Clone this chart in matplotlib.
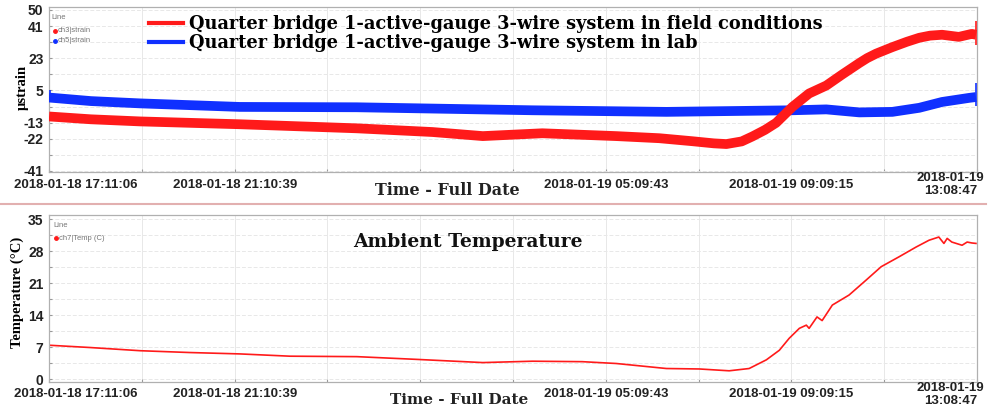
import numpy as np
import matplotlib
matplotlib.use('Agg')
import matplotlib.pyplot as plt
from matplotlib.lines import Line2D

plt.rcParams['font.family'] = ['Liberation Sans', 'DejaVu Sans']

# time axis: hours after 2018-01-18 17:11:06, span up to 2018-01-19 13:08:47
t_span = 19.961
time_tick_labels = ['2018-01-18 17:11:06', '', '2018-01-18 21:10:39', '', '', '',
                    '2018-01-19 05:09:43', '', '2018-01-19 09:09:15', '', '2018-01-19\n13:08:47']

# strain panel
strain_ticks = np.linspace(-41, 50, 11)
strain_tick_labels = ['-41', '', '-22', '-13', '', '5', '', '23', '', '41', '50']

ch3_hours = [0.0, 0.9, 1.96, 4.10, 6.62, 8.25, 9.33, 10.61, 12.20, 13.13, 13.84, 14.3, 14.57,
             14.9, 15.13, 15.4, 15.64, 15.99, 16.35, 16.72, 17.06, 17.43, 17.6, 17.79, 18.14,
             18.45, 18.72, 18.95, 19.21, 19.57, 19.85, 19.94]
ch3_strain = [-10.2, -11.8, -13.0, -14.6, -16.9, -19.0, -21.3, -19.7, -21.3, -22.5, -24.2, -25.4, -25.8,
              -24.3, -21.5, -17.8, -13.8, -4.8, 2.8, 7.3, 13.5, 20.0, 22.8, 25.3, 29.0,
              32.0, 34.3, 35.5, 36.0, 34.8, 36.5, 36.0]

ch5_hours = [0.0, 0.9, 1.96, 4.10, 6.62, 10.40, 13.28, 15.99, 16.72, 17.43, 18.14, 18.72,
             19.21, 19.79, 19.94]
ch5_strain = [0.5, -1.5, -2.8, -4.8, -5.0, -6.7, -7.6, -6.7, -6.2, -7.9, -7.6, -5.3,
              -2.0, 0.3, 0.8]

# short spikes at the ends of the records
spike_hours = [0.02, 19.95, 19.95]
spike_low = [-2.0, 30.0, -4.0]
spike_high = [5.0, 44.0, 9.0]
spike_colors = ['#1030ff', '#ff1a1a', '#1030ff']

# temperature panel
temp_ticks = np.linspace(0, 35, 11)
temp_tick_labels = ['0', '', '7', '', '14', '', '21', '', '28', '', '35']

ch7_hours = [0.0, 0.88, 1.96, 3.03, 4.10, 5.18, 6.62, 7.91, 9.33, 10.40, 11.47, 12.20,
             13.28, 13.99, 14.63, 15.06, 15.43, 15.71, 15.92, 16.14, 16.29, 16.35,
             16.52, 16.63, 16.85, 17.21, 17.58, 17.90, 18.29, 18.65, 18.93, 19.14,
             19.25, 19.32, 19.42, 19.64, 19.75, 19.85, 19.94]
ch7_temp = [7.4, 6.9, 6.2, 5.8, 5.5, 5.0, 4.9, 4.3, 3.6, 3.9, 3.8, 3.4,
            2.3, 2.2, 1.8, 2.3, 4.2, 6.3, 8.9, 11.1, 11.8, 11.1,
            13.6, 12.8, 16.2, 18.4, 21.7, 24.6, 26.8, 28.9, 30.4, 31.1,
            29.7, 30.8, 30.0, 29.3, 30.0, 29.8, 29.7]

RED = '#ff1a1a'
BLUE = '#1030ff'
serif = ['DejaVu Serif']
serif_narrow = ['Liberation Serif']


def style_axes(ax, yticks, ylabels, ylim):
    ax.set_xlim(0, t_span)
    ax.set_ylim(*ylim)
    xt = np.linspace(0, t_span, 11)
    ax.set_xticks(xt)
    ax.set_xticklabels([])
    ax.set_yticks(yticks)
    ax.set_yticklabels(ylabels, fontsize=10, fontweight='bold', color='#222222')
    ax.tick_params(direction='in', length=2.5, color='#999999', pad=4)
    ax.grid(axis='x', color='#e8e8e8', lw=0.7)
    ax.grid(axis='y', color='#e8e8e8', lw=0.7, ls=(0, (4, 2)))
    for s in ax.spines.values():
        s.set_color('#b0b0b0')
        s.set_linewidth(0.9)
    # time labels under the ticks
    for i, lab in enumerate(time_tick_labels):
        if not lab:
            continue
        dx = 0
        if i == 0:
            dx = 19
        if i == len(time_tick_labels) - 1:
            dx = -19
        ax.annotate(lab, xy=(xt[i], 0), xycoords=ax.get_xaxis_transform(),
                    xytext=(dx, -9), textcoords='offset points', ha='center', va='center',
                    fontsize=9.5, fontweight='bold', color='#222222', linespacing=1.05)


fig = plt.figure(figsize=(10.01, 4.11), dpi=100)
ax1 = fig.add_axes([0.049, 0.5815, 0.927, 0.4015])
ax2 = fig.add_axes([0.049, 0.0706, 0.927, 0.406])

# ---- strain ----
style_axes(ax1, strain_ticks, strain_tick_labels, (-41.6, 51.7))
ax1.plot(ch5_hours, ch5_strain, color=BLUE, lw=7, solid_capstyle='butt', zorder=3)
ax1.plot(ch3_hours, ch3_strain, color=RED, lw=7, solid_capstyle='butt', zorder=4)
ax1.vlines(spike_hours, spike_low, spike_high, colors=spike_colors, lw=1.2, zorder=5)
ax1.set_ylabel('µstrain', family=serif_narrow, fontsize=10.5, fontweight='bold')
ax1.yaxis.set_label_coords(-0.022, 0.51)

handles = [Line2D([], [], color=RED, lw=3), Line2D([], [], color=BLUE, lw=3)]
ax1.legend(handles, ['Quarter bridge 1-active-gauge 3-wire system in field conditions',
                     'Quarter bridge 1-active-gauge 3-wire system in lab'],
           loc='upper left', bbox_to_anchor=(0.0965, 1.015), frameon=False,
           prop={'family': serif, 'weight': 'bold', 'size': 12.8},
           handlelength=1.9, handletextpad=0.35, labelspacing=0.05, borderaxespad=0.2)

ax1.text(0.003, 0.93, 'Line', transform=ax1.transAxes, fontsize=5.5, color='#777777')
ax1.plot([0.006], [0.855], 'o', ms=2.5, color=RED, transform=ax1.transAxes)
ax1.text(0.009, 0.855, 'ch3|strain', transform=ax1.transAxes, fontsize=5.5, color='#777777', va='center')
ax1.plot([0.006], [0.795], 'o', ms=2.5, color=BLUE, transform=ax1.transAxes)
ax1.text(0.009, 0.795, 'ch5|strain', transform=ax1.transAxes, fontsize=5.5, color='#777777', va='center')

ax1.text(0.429, -0.11, 'Time - Full Date', transform=ax1.transAxes, ha='center', va='center',
         family=serif, fontsize=11.5, fontweight='bold', color='#222222')

# ---- temperature ----
style_axes(ax2, temp_ticks, temp_tick_labels, (-0.65, 35.9))
ax2.plot(ch7_hours, ch7_temp, color=RED, lw=1.2)
ax2.set_ylabel('Temperature (°C)', family=serif_narrow, fontsize=10.5, fontweight='bold')
ax2.yaxis.set_label_coords(-0.027, 0.54)

ax2.text(0.005, 0.93, 'Line', transform=ax2.transAxes, fontsize=5.5, color='#777777')
ax2.plot([0.008], [0.86], 'o', ms=2.5, color=RED, transform=ax2.transAxes)
ax2.text(0.011, 0.86, 'ch7|Temp (C)', transform=ax2.transAxes, fontsize=5.5, color='#777777', va='center')
ax2.text(0.451, 0.84, 'Ambient Temperature', transform=ax2.transAxes, ha='center', va='center',
         family=serif, fontsize=13.5, fontweight='bold', color='#111111')
ax2.text(0.442, -0.11, 'Time - Full Date', transform=ax2.transAxes, ha='center', va='center',
         family=serif, fontsize=11, fontweight='bold', color='#222222')

# separator between the two panels
fig.add_artist(Line2D([0.0, 0.985], [0.504, 0.504], transform=fig.transFigure,
                      color='#e2b0b0', lw=1.5))

fig.savefig('out.png', dpi=100)
